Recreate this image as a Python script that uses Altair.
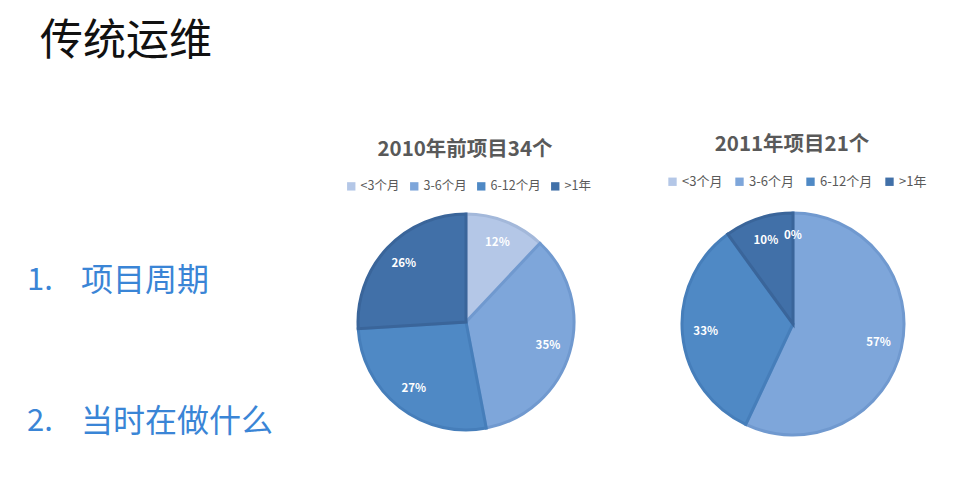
import altair as alt
import pandas as pd

# ---- data ----
slide_title = "传统运维"
bullet_nums = ["1.", "2."]
bullet_texts = ["项目周期", "当时在做什么"]
categories = ["<3个月", "3-6个月", "6-12个月", ">1年"]
pie1_title = "2010年前项目34个"
pie1_values = [12, 35, 27, 26]
pie2_title = "2011年项目21个"
pie2_values = [0, 57, 33, 10]
fills = ["#B4C7E7", "#7EA6DA", "#4F89C5", "#4170A8"]
strokes = ["#A3B8DA", "#7099CF", "#467EBA", "#3A659A"]

FONT = "Noto Sans CJK SC"


def pie_df(values):
    return pd.DataFrame({
        "cat": categories,
        "value": values,
        "idx": list(range(len(categories))),
        "label": [f"{v}%" for v in values],
    })


def text_layer(txt, x, y, size, color, weight="normal", align="left"):
    return alt.Chart(pd.DataFrame({"t": [txt]})).mark_text(
        font=FONT, fontSize=size, color=color, fontWeight=weight,
        align=align, baseline="middle"
    ).encode(text="t:N", x=alt.value(x), y=alt.value(y))


def pie_layers(values, cx, cy, r, lx, ly, lsize, lpad):
    df = pie_df(values)
    base = alt.Chart(df)
    arcs = base.mark_arc(outerRadius=r, strokeWidth=3).encode(
        theta=alt.Theta("value:Q", stack=True),
        order=alt.Order("idx:Q"),
        color=alt.Color(
            "cat:N",
            scale=alt.Scale(domain=categories, range=fills),
            legend=alt.Legend(
                orient="none", legendX=lx, legendY=ly, direction="horizontal",
                title=None, symbolType="square", symbolSize=70,
                symbolStrokeWidth=0, labelFontSize=lsize, labelFont=FONT,
                labelColor="#595959", columnPadding=lpad, labelOffset=3,
            ),
        ),
        stroke=alt.Stroke(
            "cat:N", scale=alt.Scale(domain=categories, range=strokes), legend=None
        ),
        x=alt.value(cx),
        y=alt.value(cy),
    )
    labels = base.mark_text(
        radius=r * 0.79, font=FONT, fontSize=11.5, fontWeight="bold", color="white"
    ).encode(
        theta=alt.Theta("value:Q", stack=True),
        order=alt.Order("idx:Q"),
        text="label:N",
        x=alt.value(cx),
        y=alt.value(cy),
    )
    return arcs, labels


arcs1, labels1 = pie_layers(pie1_values, 458, 314, 108, 337, 172, 12.5, 8)
arcs2, labels2 = pie_layers(pie2_values, 785, 316, 111, 658, 167, 13, 10)

blue = "#3A85D6"
texts = [
    text_layer(slide_title, 32, 34, 43, "#111111"),
    text_layer(bullet_nums[0], 19, 273, 31, blue),
    text_layer(bullet_texts[0], 73, 273, 32, blue),
    text_layer(bullet_nums[1], 19, 414, 31, blue),
    text_layer(bullet_texts[1], 73, 414, 32, blue),
    text_layer(pie1_title, 457, 142, 20.5, "#595959", "bold", "center"),
    text_layer(pie2_title, 784, 137, 20.5, "#595959", "bold", "center"),
]

chart = alt.layer(arcs1, labels1, arcs2, labels2, *texts).resolve_scale(
    color="independent"
).properties(
    width=944, height=468, autosize="none", padding=0, background="white"
).configure_view(stroke=None)

chart.save("out.html", embed_options={"renderer": "svg", "actions": False})
